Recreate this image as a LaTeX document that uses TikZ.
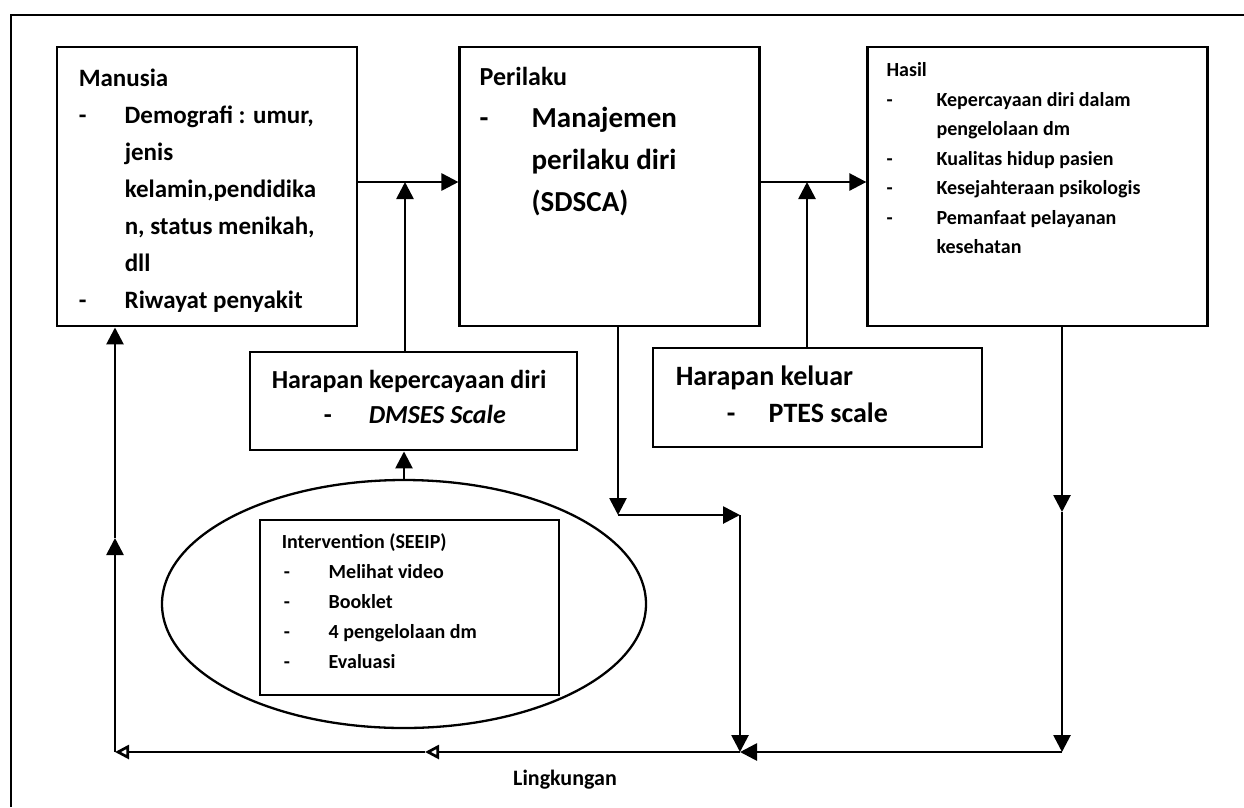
\documentclass[tikz,border=0pt]{standalone}
\usepackage{fontspec}
\setmainfont{Carlito}
\usetikzlibrary{arrows.meta,positioning,shapes.geometric}

\newcommand{\dsh}[1][46pt]{\makebox[#1][l]{-}}
\newcommand{\setfs}[2]{\fontsize{#1}{#2}\selectfont\bfseries}

\begin{document}
\begin{tikzpicture}[
  x=1pt, y=-1pt,
  box/.style={draw, line width=2.9pt, inner sep=0pt},
  txt/.style={anchor=north west, inner sep=0pt, align=left},
  arr/.style={-{Triangle[length=17pt,width=17pt]}, line width=2.7pt},
  oarr/.style={-{Triangle[open,length=14pt,width=14pt]}, line width=2.7pt}
]
  \useasboundingbox (0,0) rectangle (1244,807);
  \draw[line width=2.7pt] (11,807) -- (11,15) -- (1244,15);

  % top row
  \node[box, minimum width=300pt, minimum height=279pt] (man) at (207,186.5) {};
  \node[box, minimum width=300pt, minimum height=279pt, right=100pt of man] (per) {};
  \node[box, minimum width=340pt, minimum height=279pt, right=105pt of per] (has) {};

  \node[txt, font=\setfs{25}{37}] (mant) at ([shift={(23,23)}]man.north west)
    {Manusia\\
     \dsh Demografi : umur,\\
     \hspace*{46pt}jenis\\
     \hspace*{46pt}kelamin,pendidika\\
     \hspace*{46pt}n, status menikah,\\
     \hspace*{46pt}dll\\
     \dsh Riwayat penyakit};
  \node[txt, font=\setfs{29}{42}] (pert) at ([shift={(21,21)}]per.north west)
    {{\setfs{26}{42}Perilaku}\\
     \dsh[52pt]Manajemen\\
     \hspace*{52pt}perilaku diri\\
     \hspace*{52pt}(SDSCA)};
  \node[txt, font=\setfs{20}{29.5}] (hast) at ([shift={(20,17)}]has.north west)
    {Hasil\\
     \dsh[50pt]Kepercayaan diri dalam\\
     \hspace*{50pt}pengelolaan dm\\
     \dsh[50pt]Kualitas hidup pasien\\
     \dsh[50pt]Kesejahteraan psikologis\\
     \dsh[50pt]Pemanfaat pelayanan\\
     \hspace*{50pt}kesehatan};

  % middle row
  \node[box, minimum width=327pt, minimum height=98pt] (hkd) at (413.5,401) {};
  \node[txt, font=\setfs{26}{35}] (hkdt) at ([shift={(23,19)}]hkd.north west)
    {Harapan kepercayaan diri\\
     \hspace*{52pt}\dsh[45pt]{\itshape DMSES Scale}};
  \node[box, minimum width=329pt, minimum height=99pt] (hk) at (817.5,397.5) {};
  \node[txt, font=\setfs{28}{37}] (hkt) at ([shift={(24,19)}]hk.north west)
    {Harapan keluar\\
     \hspace*{51pt}\dsh[42pt]PTES scale};

  % intervention
  \node[draw, ellipse, line width=2.3pt, inner sep=0pt,
        minimum width=484pt, minimum height=248pt] (elp) at (404,604) {};
  \node[box, minimum width=299pt, minimum height=175pt] (intv) at (409.5,607.5) {};
  \node[txt, font=\setfs{20}{30}] (intvt) at ([shift={(23,15)}]intv.north west)
    {Intervention (SEEIP)\\
     \hspace*{2pt}\dsh[45pt]Melihat video\\
     \hspace*{2pt}\dsh[45pt]Booklet\\
     \hspace*{2pt}\dsh[45pt]4 pengelolaan dm\\
     \hspace*{2pt}\dsh[45pt]Evaluasi};

  \node[font=\setfs{22}{26}] (lingk) at (565,780) {Lingkungan};

  % arrows
  \coordinate (j1) at (405,182);
  \coordinate (j2) at (807,182);
  \draw[arr] (man.east |- j1) -- (per.west |- j1);
  \draw[arr] (per.east |- j2) -- (has.west |- j2);
  \draw[arr] (hkd.north -| j1) -- (j1);
  \draw[arr] (hk.north -| j2) -- (j2);
  \draw[arr] (elp.north) -- (hkd.south -| elp.north);

  % feedback loop
  \coordinate (b1) at (618,515);
  \coordinate (b2) at (740,515);
  \coordinate (b3) at (740,752);
  \coordinate (b4) at (1062,512);
  \coordinate (b5) at (1062,752);
  \coordinate (b6) at (425,752);
  \coordinate (b7) at (115,752);
  \coordinate (b8) at (115,538);
  \draw[arr] (per.south -| b1) -- (b1);
  \draw[arr] (b1) -- (b2);
  \draw[arr] (b2) -- (b3);
  \draw[arr] (has.south -| b4) -- (b4);
  \draw[arr] (b4) -- (b5);
  \draw[arr] (b5) -- (b3);
  \draw[oarr] (b3) -- (b6);
  \draw[oarr] (b6) -- (b7);
  \draw[arr] (b7) -- (b8);
  \draw[arr] (b8) -- (man.south -| b8);
\end{tikzpicture}
\end{document}
